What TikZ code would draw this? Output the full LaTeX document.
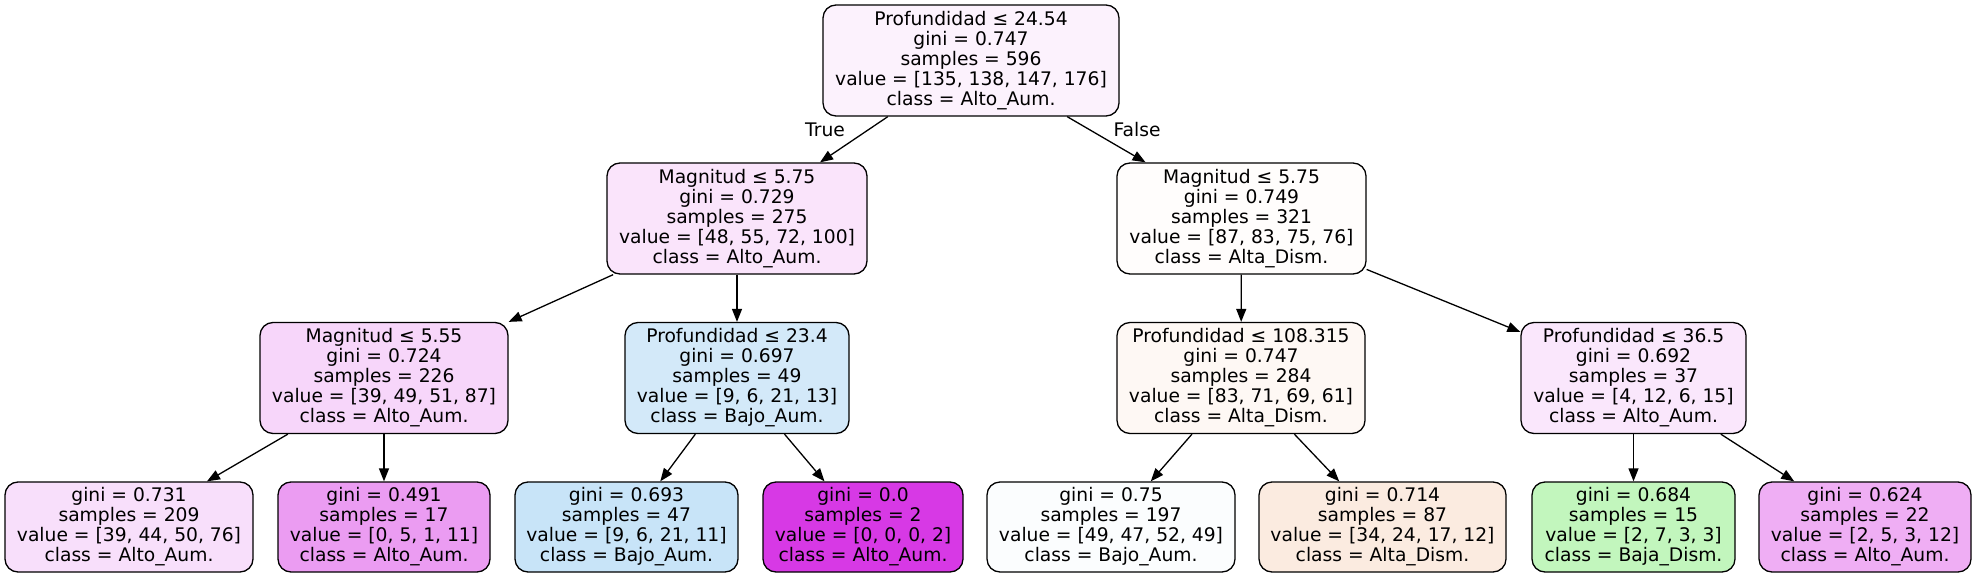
\documentclass[tikz,border=0pt]{standalone}
\usepackage{fontspec}
\setmainfont{DejaVu Sans}
\usetikzlibrary{arrows.meta}
\definecolor{cRoot}{RGB}{252,242,253}
\definecolor{cLa}{RGB}{250,228,251}
\definecolor{cLb}{RGB}{255,253,252}
\definecolor{cMa}{RGB}{247,214,250}
\definecolor{cMb}{RGB}{211,233,249}
\definecolor{cMc}{RGB}{254,248,244}
\definecolor{cMd}{RGB}{250,231,252}
\definecolor{cNa}{RGB}{248,223,251}
\definecolor{cNb}{RGB}{235,156,242}
\definecolor{cNc}{RGB}{200,228,248}
\definecolor{cNd}{RGB}{215,57,229}
\definecolor{cNe}{RGB}{251,253,254}
\definecolor{cNf}{RGB}{251,235,224}
\definecolor{cNg}{RGB}{194,246,189}
\definecolor{cNh}{RGB}{239,174,244}
\begin{document}
\begin{tikzpicture}[x=1pt,y=-1pt,
  tn/.style={draw=black, line width=1.3pt, rounded corners=13pt, align=center,
    font=\fontsize{18.7}{20}\selectfont, inner sep=0pt},
  inner/.style={tn, minimum height=111pt},
  leaf/.style={tn, minimum height=90pt},
  edge/.style={-{Triangle[length=13pt,width=10pt]}, line width=1.3pt},
  lbl/.style={font=\fontsize{18.7}{20}\selectfont, inner sep=0pt}]
\useasboundingbox (0,0) rectangle (1977,577);
% level 0
\node[inner, fill=cRoot, minimum width=296pt] (root) at (971,60.5)
  {Profundidad ≤ 24.54\\gini = 0.747\\samples = 596\\value = [135, 138, 147, 176]\\class = Alto\_Aum.};
% level 1
\node[inner, fill=cLa, minimum width=260pt] (la) at (737,218.5)
  {Magnitud ≤ 5.75\\gini = 0.729\\samples = 275\\value = [48, 55, 72, 100]\\class = Alto\_Aum.};
\node[inner, fill=cLb, minimum width=249pt] (lb) at (1241.5,218.5)
  {Magnitud ≤ 5.75\\gini = 0.749\\samples = 321\\value = [87, 83, 75, 76]\\class = Alta\_Dism.};
% level 2
\node[inner, fill=cMa, minimum width=248pt] (ma) at (384,378)
  {Magnitud ≤ 5.55\\gini = 0.724\\samples = 226\\value = [39, 49, 51, 87]\\class = Alto\_Aum.};
\node[inner, fill=cMb, minimum width=224pt] (mb) at (737,378)
  {Profundidad ≤ 23.4\\gini = 0.697\\samples = 49\\value = [9, 6, 21, 13]\\class = Bajo\_Aum.};
\node[inner, fill=cMc, minimum width=248pt] (mc) at (1241,378)
  {Profundidad ≤ 108.315\\gini = 0.747\\samples = 284\\value = [83, 71, 69, 61]\\class = Alta\_Dism.};
\node[inner, fill=cMd, minimum width=225pt] (md) at (1633.5,378)
  {Profundidad ≤ 36.5\\gini = 0.692\\samples = 37\\value = [4, 12, 6, 15]\\class = Alto\_Aum.};
% level 3
\node[leaf, fill=cNa, minimum width=248pt] (na) at (129,527)
  {gini = 0.731\\samples = 209\\value = [39, 44, 50, 76]\\class = Alto\_Aum.};
\node[leaf, fill=cNb, minimum width=212pt] (nb) at (384,527)
  {gini = 0.491\\samples = 17\\value = [0, 5, 1, 11]\\class = Alto\_Aum.};
\node[leaf, fill=cNc, minimum width=223pt] (nc) at (626.5,527)
  {gini = 0.693\\samples = 47\\value = [9, 6, 21, 11]\\class = Bajo\_Aum.};
\node[leaf, fill=cNd, minimum width=200pt] (nd) at (863,527)
  {gini = 0.0\\samples = 2\\value = [0, 0, 0, 2]\\class = Alto\_Aum.};
\node[leaf, fill=cNe, minimum width=248pt] (ne) at (1111,527)
  {gini = 0.75\\samples = 197\\value = [49, 47, 52, 49]\\class = Bajo\_Aum.};
\node[leaf, fill=cNf, minimum width=247pt] (nf) at (1382.5,527)
  {gini = 0.714\\samples = 87\\value = [34, 24, 17, 12]\\class = Alta\_Dism.};
\node[leaf, fill=cNg, minimum width=203pt] (ng) at (1633.5,527)
  {gini = 0.684\\samples = 15\\value = [2, 7, 3, 3]\\class = Baja\_Dism.};
\node[leaf, fill=cNh, minimum width=212pt] (nh) at (1865,527)
  {gini = 0.624\\samples = 22\\value = [2, 5, 3, 12]\\class = Alto\_Aum.};
% edges
\draw[edge] (root) -- (la);
\draw[edge] (root) -- (lb);
\draw[edge] (la) -- (ma);
\draw[edge] (la) -- (mb);
\draw[edge] (lb) -- (mc);
\draw[edge] (lb) -- (md);
\draw[edge] (ma) -- (na);
\draw[edge] (ma) -- (nb);
\draw[edge] (mb) -- (nc);
\draw[edge] (mb) -- (nd);
\draw[edge] (mc) -- (ne);
\draw[edge] (mc) -- (nf);
\draw[edge] (md) -- (ng);
\draw[edge] (md) -- (nh);
% edge labels
\node[lbl] (tlab) at (825,130) {True};
\node[lbl] (flab) at (1137,130) {False};
\end{tikzpicture}
\end{document}
